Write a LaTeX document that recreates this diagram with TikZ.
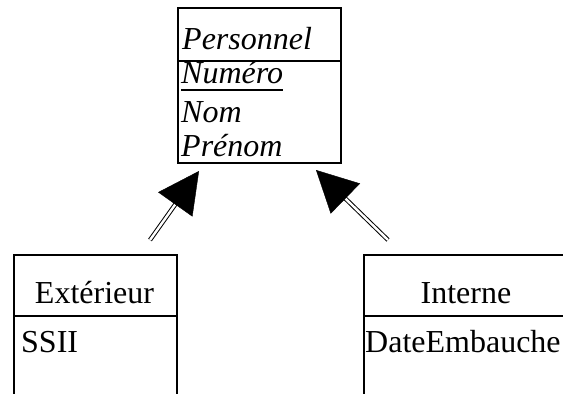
\documentclass[tikz,border=0pt]{standalone}
\usepackage{fontspec}
\setmainfont{Liberation Serif}
\usetikzlibrary{arrows.meta, calc}

\newcommand{\umlfont}{\fontsize{32}{38}\selectfont}

\begin{document}
\begin{tikzpicture}[
    x=1pt, y=-1pt,
    font=\umlfont,
    classbox/.style={draw, line width=1.5pt, inner sep=0pt, anchor=north west},
    divider/.style={line width=1.5pt},
    attr/.style={anchor=base west, inner sep=0pt},
    absattr/.style={attr, font=\umlfont\itshape},
    title/.style={anchor=base, inner sep=0pt},
    shaft/.style={double, double distance=2.4pt, line width=1pt},
    head/.style={line width=0.4pt, -{Triangle[length=41pt, width=42pt]}}
]
    \useasboundingbox (0,0) rectangle (563,394);
    \clip (0,0) rectangle (563,394);

    % Personnel class
    \node[classbox, minimum width=163pt, minimum height=155pt] (pers) at (177,7) {};
    \draw[divider] (pers.west |- 0,61) -- (pers.east |- 0,61);
    \node[absattr] (pers-name) at (182,49) {Personnel};
    \node[absattr] (pers-num) at (181,83) {Numéro};
    \draw[line width=1.3pt] ($(pers-num.base west)+(0,7)$) -- ($(pers-num.base east)+(0,7)$);
    \node[absattr] (pers-nom) at (181,122) {Nom};
    \node[absattr] (pers-prenom) at (181,156) {Prénom};

    % Exterieur class
    \node[classbox, minimum width=163pt, minimum height=200pt] (ext) at (13,254) {};
    \draw[divider] (ext.west |- 0,316) -- (ext.east |- 0,316);
    \node[title] (ext-name) at (94.5,303) {Extérieur};
    \node[attr] (ext-ssii) at (21,352) {SSII};

    % Interne class
    \node[classbox, minimum width=206pt, minimum height=200pt] (int) at (363,254) {};
    \draw[divider] (int.west |- 0,316) -- (int.east |- 0,316);
    \node[title] (int-name) at (466,303) {Interne};
    \node[attr] (int-date) at (365,352) {DateEmbauche};

    % Inheritance arrows
    \coordinate (ext-from) at (150,240);
    \coordinate (ext-to) at (199,171);
    \coordinate (ext-base) at ($(ext-to)!40pt!(ext-from)$);
    \draw[shaft] (ext-from) -- (ext-base);
    \draw[head] (ext-base) -- (ext-to);

    \coordinate (int-from) at (388,240);
    \coordinate (int-to) at (316,170);
    \coordinate (int-base) at ($(int-to)!40pt!(int-from)$);
    \draw[shaft] (int-from) -- (int-base);
    \draw[head] (int-base) -- (int-to);
\end{tikzpicture}
\end{document}
